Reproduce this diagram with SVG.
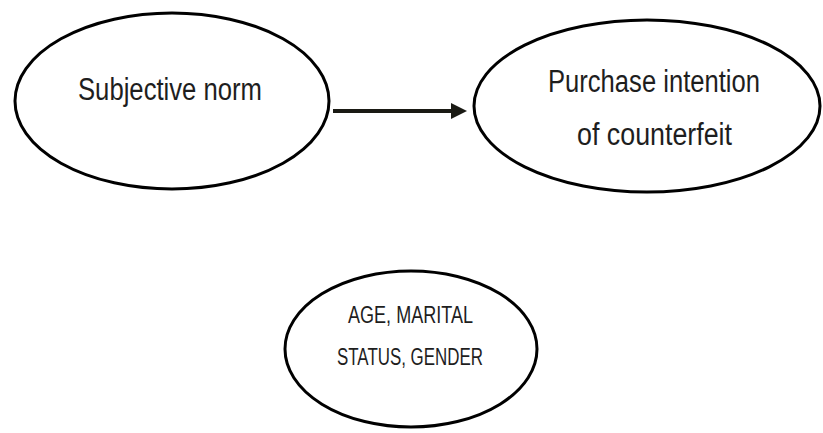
<svg xmlns="http://www.w3.org/2000/svg" width="823" height="433" viewBox="0 0 823 433">
<style>
.node ellipse{fill:#fff;stroke:#000;stroke-width:3}
.lbl{font-family:"Liberation Sans","Open Sans",sans-serif;fill:#1e1e1e}
</style>
<defs>
<marker id="ah" markerWidth="4" markerHeight="4" refX="3" refY="2" orient="auto" markerUnits="strokeWidth">
<path d="M0,0 L4,2 L0,4 Z" fill="#1a1a14"/>
</marker>
</defs>
<rect width="823" height="433" fill="#fff"/>
<g id="subjective-norm" class="node">
<ellipse cx="172" cy="101" rx="157" ry="88"/>
<text class="lbl" x="78" y="100" font-size="31" textLength="184" lengthAdjust="spacingAndGlyphs">Subjective norm</text>
</g>
<g id="purchase-intention" class="node">
<ellipse cx="647" cy="106" rx="173" ry="86"/>
<text class="lbl" x="548" y="92" font-size="31" textLength="212" lengthAdjust="spacingAndGlyphs">Purchase intention</text>
<text class="lbl" x="577" y="145" font-size="31" textLength="155" lengthAdjust="spacingAndGlyphs">of counterfeit</text>
</g>
<g id="demographics" class="node">
<ellipse cx="411" cy="349" rx="126" ry="78"/>
<text class="lbl" x="348" y="323" font-size="23" textLength="125" lengthAdjust="spacingAndGlyphs">AGE, MARITAL</text>
<text class="lbl" x="337" y="365" font-size="23" textLength="146" lengthAdjust="spacingAndGlyphs">STATUS, GENDER</text>
</g>
<g id="connectors">
<line x1="333" y1="111" x2="463" y2="111" stroke="#1a1a14" stroke-width="4" marker-end="url(#ah)"/>
</g>
</svg>
